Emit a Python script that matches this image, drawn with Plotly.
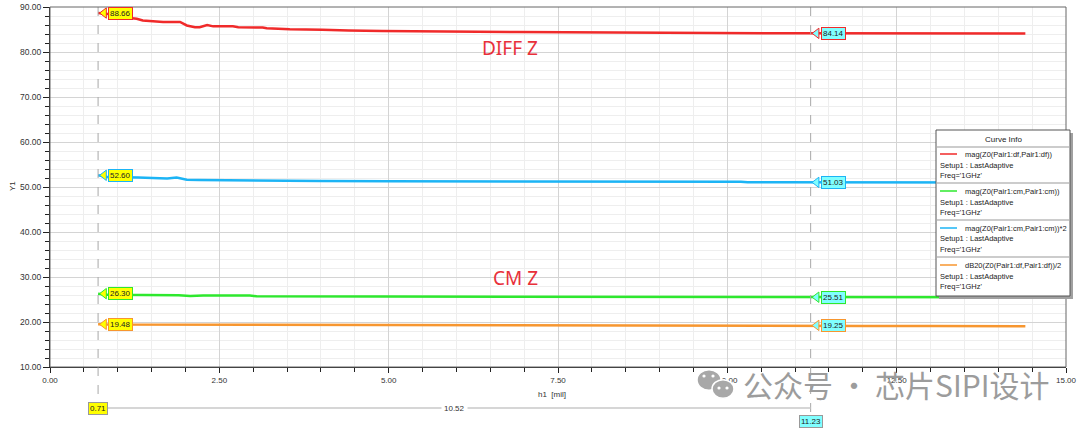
import plotly.graph_objects as go

# h1 sweep (mil) and traced curves
diff_x = [0.71, 0.89, 1.14, 1.28, 1.37, 1.51, 1.67, 1.92, 2.02, 2.14, 2.21, 2.32, 2.41,
          2.70, 2.78, 3.14, 3.20, 3.54, 3.98, 4.02, 4.41, 4.90, 6.90, 8.31, 10.0, 11.23, 14.40]
diff_z = [88.66, 88.40, 87.60, 87.40, 87.00, 86.80, 86.67, 86.67, 85.90, 85.50, 85.50, 86.00, 85.70,
          85.70, 85.50, 85.45, 85.27, 85.05, 85.05, 84.95, 84.80, 84.67, 84.45, 84.30, 84.15, 84.14, 84.10]

cm2_x = [0.71, 0.85, 1.30, 1.60, 1.73, 1.87, 2.02, 2.20, 2.47, 3.00, 3.99, 5.00, 6.40,
         7.80, 8.50, 10.20, 10.30, 11.23, 12.00, 14.40]
cm2_z = [52.60, 52.20, 52.10, 52.00, 51.90, 52.10, 51.60, 51.55, 51.50, 51.45, 51.35, 51.30, 51.28,
         51.25, 51.15, 51.15, 51.05, 51.03, 51.00, 51.00]

cm_x = [0.71, 0.85, 1.90, 2.00, 2.07, 2.26, 2.95, 3.05, 5.00, 8.50, 8.60, 11.23, 12.00, 14.40]
cm_z = [26.30, 26.05, 25.95, 25.85, 25.80, 25.90, 25.90, 25.70, 25.65, 25.60, 25.55, 25.51, 25.50, 25.50]

db_x = [0.71, 0.85, 3.00, 6.00, 9.00, 11.23, 11.95, 12.05, 13.00, 14.40]
db_z = [19.48, 19.42, 19.38, 19.35, 19.30, 19.25, 19.25, 19.12, 19.10, 19.08]

cursors = [0.71, 11.23]
cursor_fill = ["#ffff00", "#80ffff"]
# values shown in the marker callouts: one per curve, per cursor
callouts = {
    "diff": [88.66, 84.14],
    "cm2": [52.60, 51.03],
    "cm": [26.30, 25.51],
    "db": [19.48, 19.25],
}
span_label = "10.52"

curve_names = ["mag(Z0(Pair1:df,Pair1:df))", "mag(Z0(Pair1:cm,Pair1:cm))",
               "mag(Z0(Pair1:cm,Pair1:cm))*2", "dB20(Z0(Pair1:df,Pair1:df))/2"]
setup_text = "Setup1 : LastAdaptive"
freq_text = "Freq='1GHz'"

RED, GREEN, BLUE, ORANGE = "#f02a2a", "#2ee82e", "#1cb4f5", "#f7962f"

W, H = 1080, 430
ML, MR, MT, MB = 50, 14, 7, 63
PW, PH = W - ML - MR, H - MT - MB


def px(x):
    return (x - ML) / PW


def py(y):
    return (H - MB - y) / PH


FONT = "Liberation Sans, Arial, sans-serif"


def label(xp, yp, text, size=8, color="#333", anchor="center", **kw):
    # text placed at a pixel position of the page, centred vertically
    return dict(x=px(xp), y=py(yp), xref="paper", yref="paper", text=text, showarrow=False,
                xanchor=anchor, yanchor="middle", font=dict(family=kw.pop("family", FONT),
                                                            size=size, color=color), **kw)


fig = go.Figure()

series = [
    ("diff", diff_x, diff_z, RED),
    ("cm2", cm2_x, cm2_z, BLUE),
    ("cm", cm_x, cm_z, GREEN),
    ("db", db_x, db_z, ORANGE),
]
for key, xs, ys, color in series:
    fig.add_trace(go.Scatter(x=xs, y=ys, mode="lines", line=dict(color=color, width=2.5),
                             showlegend=False, hoverinfo="skip"))

shapes = []
annotations = []

# cursor lines + callouts
x_per_px = 15.0 / PW
for ci, cx in enumerate(cursors):
    shapes.append(dict(type="line", xref="x", yref="paper", x0=cx, x1=cx, y0=1,
                       y1=py(403 if ci == 0 else 417),
                       line=dict(color="#a8a8a8", width=1, dash="dash"), layer="above"))
    for key, xs, ys, color in series:
        val = callouts[key][ci]
        fig.add_trace(go.Scatter(
            x=[cx + 6 * x_per_px], y=[val], mode="markers",
            marker=dict(symbol="triangle-left", size=9, color=cursor_fill[ci],
                        line=dict(color=color, width=1)),
            showlegend=False, hoverinfo="skip"))
        annotations.append(dict(
            x=cx, y=val, xref="x", yref="y", text=f"{val:.2f}", showarrow=False,
            xanchor="left", yanchor="middle", xshift=10,
            font=dict(family=FONT, size=8, color="#222"),
            bgcolor=cursor_fill[ci], bordercolor=color, borderwidth=1, borderpad=1))

# cursor span below the axis
shapes.append(dict(type="line", xref="x", yref="paper", x0=cursors[0], x1=cursors[1],
                   y0=py(408), y1=py(408), line=dict(color="#c8c8c8", width=1.5)))
for ci, cx in enumerate(cursors):
    annotations.append(dict(
        x=cx, y=py(408 if ci == 0 else 422), xref="x", yref="paper", text=f"{cx:.2f}",
        showarrow=False, xanchor="center", yanchor="middle",
        font=dict(family=FONT, size=8, color="#222"),
        bgcolor=cursor_fill[ci], bordercolor="#999", borderwidth=1, borderpad=1))
annotations.append(dict(
    x=(cursors[0] + cursors[1]) / 2, y=py(408), xref="x", yref="paper", text=span_label,
    showarrow=False, xanchor="center", yanchor="middle",
    font=dict(family=FONT, size=8, color="#333"), bgcolor="white", borderpad=2))

# frame (top / right)
shapes.append(dict(type="rect", xref="paper", yref="paper", x0=0, x1=1, y0=0, y1=1,
                   line=dict(color="#666", width=1), layer="above"))

# text labels on the plot
annotations += [
    label(510, 48, "DIFF Z", size=19, color="#e8303a", family="Noto Sans, sans-serif"),
    label(515, 278, "CM Z", size=19, color="#e8303a", family="Noto Sans, sans-serif"),
    label(12, 186, "Y1", textangle=-90),
    label(552, 394, "h1  [mil]"),
]

# Curve Info box
lx0, lx1, ly0, ly1 = 936, 1070, 130, 296
shapes.append(dict(type="rect", xref="paper", yref="paper", x0=px(lx0 + 3), x1=px(lx1 + 3),
                   y0=py(ly1 + 3), y1=py(ly0 + 3), fillcolor="#a0a0a0", line=dict(width=0),
                   layer="above"))
shapes.append(dict(type="rect", xref="paper", yref="paper", x0=px(lx0), x1=px(lx1),
                   y0=py(ly1), y1=py(ly0), fillcolor="white", line=dict(color="#555", width=1),
                   layer="above"))
annotations.append(label(1003, 139, "Curve Info", color="#222"))
for sep in [147, 183, 220, 257]:
    shapes.append(dict(type="line", xref="paper", yref="paper", x0=px(lx0 + 1), x1=px(lx1 - 1),
                       y0=py(sep), y1=py(sep), line=dict(color="#999", width=1), layer="above"))
legend_colors = [RED, GREEN, BLUE, ORANGE]
for i, (name, color) in enumerate(zip(curve_names, legend_colors)):
    base = 154 + 37 * i
    shapes.append(dict(type="line", xref="paper", yref="paper", x0=px(940), x1=px(957),
                       y0=py(base), y1=py(base), line=dict(color=color, width=1.5), layer="above"))
    annotations.append(label(964, base, name, size=7.5, color="#222", anchor="left", borderpad=0))
    annotations.append(label(939, base + 11, setup_text, size=7.5, color="#222", anchor="left",
                             borderpad=0))
    annotations.append(label(939, base + 21.5, freq_text, size=7.5, color="#222", anchor="left",
                             borderpad=0))

# watermark: wechat-like bubbles + text
for cxp, cyp, r in [(709, 380, 12), (723, 389, 11)]:
    shapes.append(dict(type="circle", xref="paper", yref="paper", x0=px(cxp - r), x1=px(cxp + r),
                       y0=py(cyp + r * 0.85), y1=py(cyp - r * 0.85), fillcolor="#a8a8a8",
                       line=dict(color="white", width=1.5), layer="above"))
for ex, ey in [(704, 376), (713, 376), (719, 388), (727, 388)]:
    shapes.append(dict(type="circle", xref="paper", yref="paper", x0=px(ex - 1.6), x1=px(ex + 1.6),
                       y0=py(ey + 1.6), y1=py(ey - 1.6), fillcolor="white", line=dict(width=0),
                       layer="above"))
annotations.append(label(741, 384, "公众号\u2009·\u2009芯片SIPI设计", size=30, color="#9c9c9c",
                         anchor="left", family="Noto Sans CJK SC, sans-serif"))

fig.update_layout(
    width=W, height=H,
    margin=dict(l=ML, r=MR, t=MT, b=MB, autoexpand=False),
    paper_bgcolor="white", plot_bgcolor="white",
    shapes=shapes, annotations=annotations,
    showlegend=False,
)
fig.update_xaxes(
    range=[0, 15], dtick=2.5, tick0=0, tickformat=".2f", showgrid=True, gridcolor="#d4d4d4",
    ticks="outside", ticklen=5, tickcolor="#222", showline=True, linecolor="#222", zeroline=False,
    tickfont=dict(family=FONT, size=8, color="#333"), automargin=False,
    minor=dict(dtick=0.5, showgrid=True, gridcolor="#eeeeee", ticks="outside", ticklen=4,
               tickcolor="#222"),
)
fig.update_yaxes(
    range=[10, 90], dtick=10, tick0=0, tickformat=".2f", showgrid=True, gridcolor="#d4d4d4",
    ticks="outside", ticklen=6, tickcolor="#222", showline=True, linecolor="#222", zeroline=False,
    tickfont=dict(family=FONT, size=8.5, color="#333"), automargin=False,
    minor=dict(dtick=2, showgrid=True, gridcolor="#eeeeee", ticks="outside", ticklen=4,
               tickcolor="#222"),
)

# the page's default body margin would push the 1080x430 figure off the window
fig.write_html("out.html", config={"displayModeBar": False},
               post_script="document.body.style.margin = '0';")
